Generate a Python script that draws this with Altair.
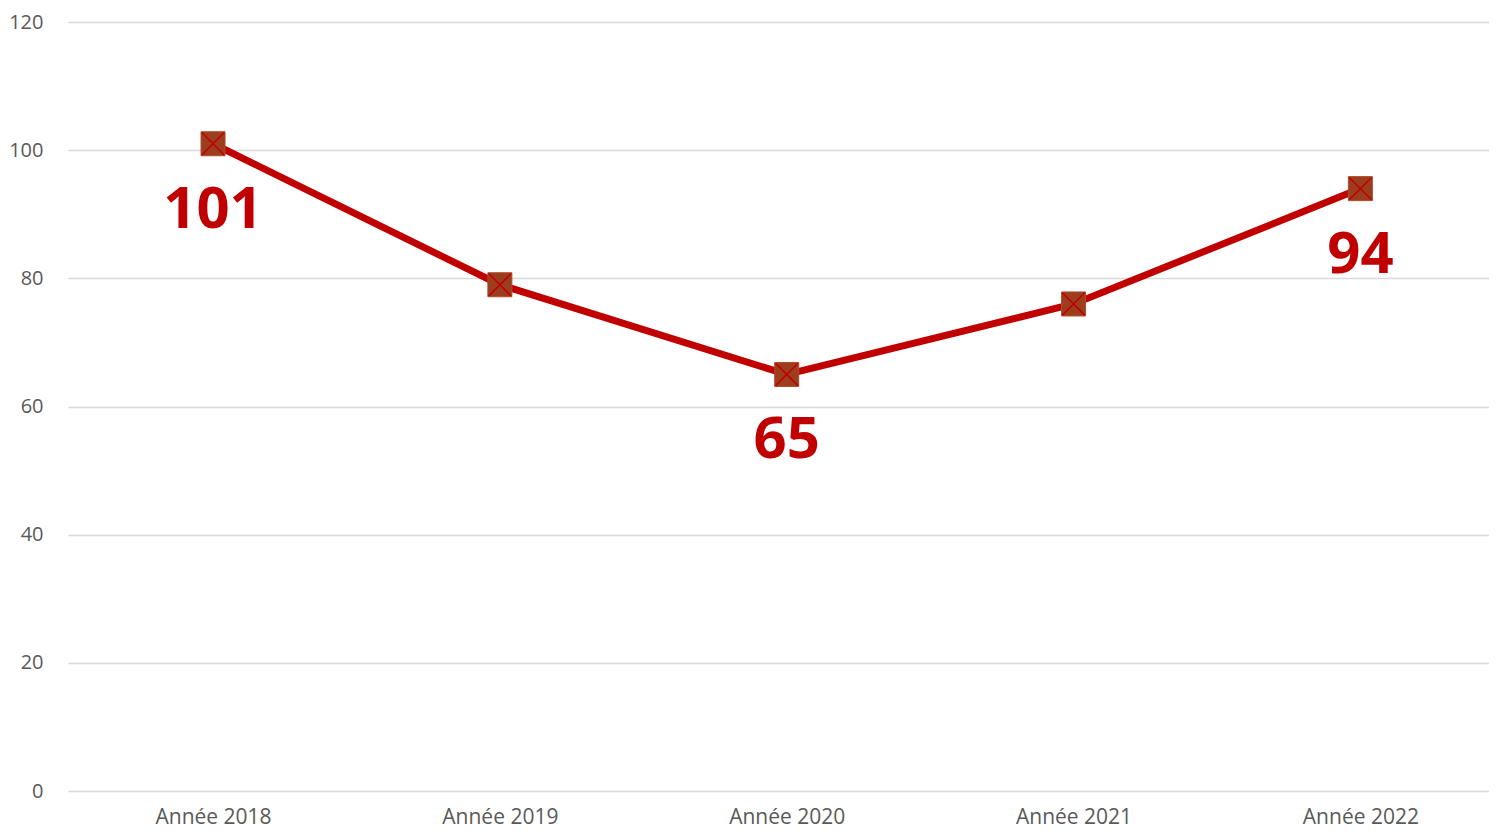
import altair as alt
import pandas as pd

years = ["Année 2018", "Année 2019", "Année 2020", "Année 2021", "Année 2022"]
values = [101, 79, 65, 76, 94]
label_text = ["101", "", "65", "", "94"]

df = pd.DataFrame({"annee": years, "valeur": values, "etiquette": label_text})

x = alt.X("annee:N", sort=years, title=None,
          scale=alt.Scale(type="point", padding=0.477, align=0.53),
          axis=alt.Axis(labelAngle=0, labelFont="Open Sans", labelFontSize=21,
                        labelColor="#595959", ticks=False, domain=False,
                        labelPadding=15, grid=False))
y = alt.Y("valeur:Q", title=None,
          scale=alt.Scale(domain=[0, 120], nice=False),
          axis=alt.Axis(values=[0, 20, 40, 60, 80, 100, 120], labelFont="Open Sans",
                        labelFontSize=20, labelColor="#595959", ticks=False,
                        domain=False, labelPadding=25, gridColor="#D9D9D9",
                        gridWidth=1.5))

base = alt.Chart(df).encode(x=x, y=y)

line = base.mark_line(color="#C00000", strokeWidth=7)
squares = base.mark_point(shape="square", size=576, filled=True, color="#9C3D1E",
                          stroke="#B04A2A", strokeWidth=1, opacity=1)
crosses = base.mark_point(shape="M-1,-1L1,1M-1,1L1,-1", size=500, filled=False,
                          color="#C00000", strokeWidth=1.5, opacity=1)
labels = base.mark_text(font="Open Sans", fontSize=58, fontWeight="bold",
                        color="#C00000", dy=67).encode(text="etiquette:N")

chart = (line + squares + crosses + labels).properties(
    width=1421, height=769,
    padding={"left": 0, "top": 4, "right": 0, "bottom": 3},
).configure_view(stroke=None)

chart.save("out.html", embed_options={"renderer": "svg", "actions": False})
